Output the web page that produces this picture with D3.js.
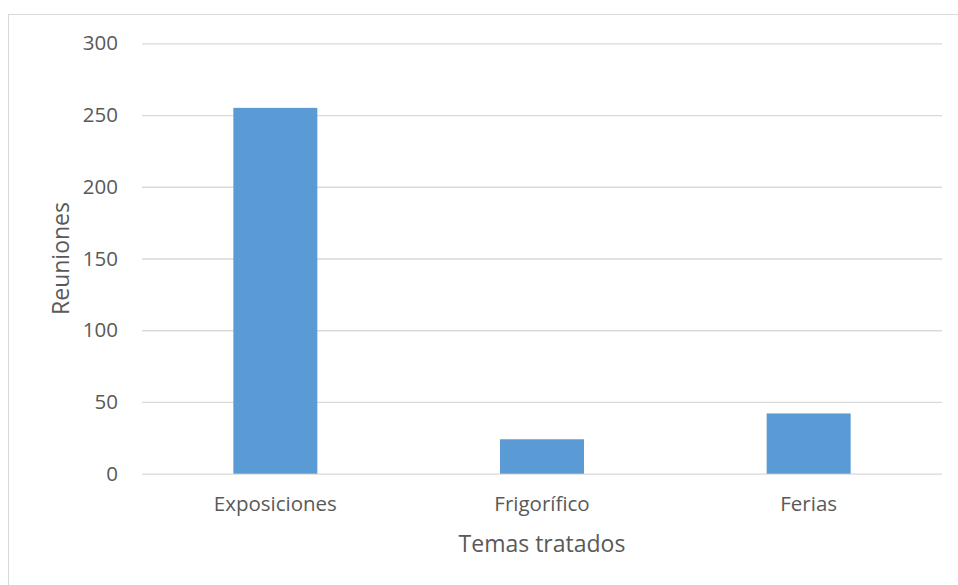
<!DOCTYPE html>
<html><head><meta charset="utf-8">
<script src="https://cdn.jsdelivr.net/npm/d3@7"></script>
<style>body{margin:0;background:#fff}svg{display:block}</style>
</head><body>
<svg id="c" width="958" height="585"></svg>
<script>
const categories = ["Exposiciones", "Frigorífico", "Ferias"];
const values = [255, 24, 42];
const yTicks = [0, 50, 100, 150, 200, 250, 300];
const xTitle = "Temas tratados";
const yTitle = "Reuniones";

(function () {
const svg = d3.select("#c");
const font = "'Open Sans', sans-serif";
const textColor = "#595959";
const pL = 142, pR = 942, pT = 43.3, pB = 473.7;

svg.append("rect").attr("x", 8.5).attr("y", 14.5).attr("width", 960).attr("height", 600)
  .attr("fill", "#fff").attr("stroke", "#d9d9d9");

const x = d3.scaleBand().domain(categories).range([pL, pR]).paddingInner(0.685).paddingOuter(0.3425);
const y = d3.scaleLinear().domain([0, 300]).range([pB, pT]);

const ga = svg.append("g").attr("transform", `translate(${pL},0)`)
  .call(d3.axisLeft(y).tickValues(yTicks).tickSize(-(pR - pL)).tickPadding(24));
ga.select(".domain").remove();
ga.selectAll(".tick line").attr("stroke", "#d9d9d9").attr("stroke-width", 1.3);
ga.selectAll(".tick text").attr("fill", textColor).style("font-family", font).style("font-size", "20.5px");

svg.append("g").selectAll("rect").data(values).join("rect")
  .attr("x", (d, i) => x(categories[i]))
  .attr("width", x.bandwidth())
  .attr("y", d => y(d))
  .attr("height", d => y(0) - y(d))
  .attr("fill", "#5b9bd5");

const gx = svg.append("g").attr("transform", `translate(0,${pB})`)
  .call(d3.axisBottom(x).tickSize(0).tickPadding(22.5));
gx.select(".domain").remove();
gx.selectAll(".tick text").attr("fill", textColor).style("font-family", font).style("font-size", "20.5px");

svg.append("text").attr("x", (pL + pR) / 2).attr("y", 552).attr("text-anchor", "middle")
  .attr("fill", textColor).style("font-family", font).style("font-size", "23px").text(xTitle);
svg.append("text").attr("transform", `translate(69,${(pT + pB) / 2}) rotate(-90)`).attr("text-anchor", "middle")
  .attr("fill", textColor).style("font-family", font).style("font-size", "23px").text(yTitle);
})();
</script>
</body></html>
